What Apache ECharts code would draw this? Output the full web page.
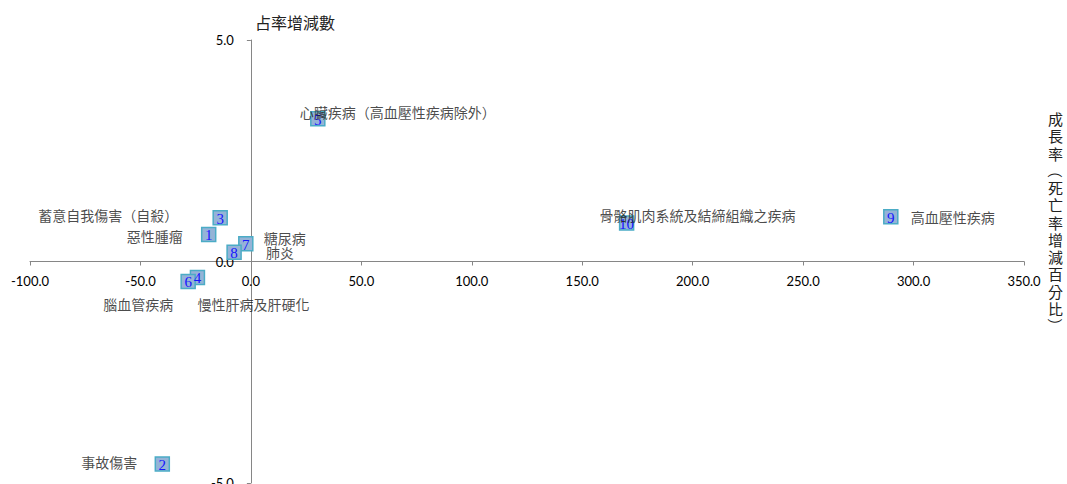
<!DOCTYPE html>
<html>
<head>
<meta charset="utf-8">
<script src="https://cdn.jsdelivr.net/npm/echarts@6/dist/echarts.min.js"></script>
<style>
html,body{margin:0;padding:0;background:#fff;}
#chart{width:1067px;height:484px;}
</style>
</head>
<body>
<div id="chart"></div>
<script>
// ---- data ----
var ids = [1, 2, 3, 4, 5, 6, 7, 8, 9, 10];
var names = ['惡性腫瘤', '事故傷害', '蓄意自我傷害（自殺）', '慢性肝病及肝硬化', '心臟疾病（高血壓性疾病除外）', '腦血管疾病', '糖尿病', '肺炎', '高血壓性疾病', '骨骼肌肉系統及結締組織之疾病'];
var growthRate = [-19.1, -40.1, -13.9, -24.2, 30.3, -28.4, -2.3, -7.6, 289.7, 170.1];
var shareChange = [0.61, -4.57, 0.99, -0.36, 3.22, -0.45, 0.40, 0.21, 1.01, 0.87];
var xTicks = { min: -100, max: 350, interval: 50 };
var yTicks = { min: -5, max: 5, interval: 5 };
var xAxisTitle = '成長率（死亡率增減百分比）';
var yAxisTitle = '占率增減數';

// ---- label placement (styling only) ----
var labelAlign = ['right', 'right', 'right', 'left', 'left', 'right', 'left', 'left', 'left', 'left'];
var labelOffset = [[-26, 2], [-25, -2], [-42, -3], [0, 27], [-18, -7], [-15, 23], [18, -6], [32, 0], [20, 0], [-27, -8]];

// vertical title: characters stacked, brackets drawn rotated
var titleChars = xAxisTitle.split('');
var titleTop = 110, titleLine = 17.25, titleCx = 1055.5, titleFont = 15;
var titleText = titleChars.map(function (c) { return (c === '（' || c === '）') ? '　' : c; }).join('\n');
var bracketGraphics = [];
titleChars.forEach(function (c, i) {
  if (c === '（' || c === '）') {
    bracketGraphics.push({
      type: 'text',
      x: titleCx, y: titleTop + titleLine * (i + 0.5),
      rotation: -Math.PI / 2,
      style: { text: c, fontFamily: 'Noto Sans CJK TC', fontSize: titleFont, fill: '#222', align: 'center', verticalAlign: 'middle' }
    });
  }
});

var pointData = ids.map(function (id, i) {
  return { value: [growthRate[i], shareChange[i]], id: id, name: names[i] };
});
var nameData = ids.map(function (id, i) {
  return {
    value: [growthRate[i], shareChange[i]],
    name: names[i],
    label: { align: labelAlign[i], offset: labelOffset[i] }
  };
});

// grid geometry
var W = 1067, H = 484;
var G = { left: 30, right: 43, top: 40, bottom: 1 };
var gw = W - G.left - G.right, gh = H - G.top - G.bottom;
// place each axis on the other axis' zero (axes cross at 0)
var xAxisOffset = -gh * (0 - yTicks.min) / (yTicks.max - yTicks.min);
var yAxisOffset = -gw * (0 - xTicks.min) / (xTicks.max - xTicks.min);

var chart = echarts.init(document.getElementById('chart'), null, { renderer: 'svg' });
var axisGray = '#868686';
chart.setOption({
  animation: false,
  backgroundColor: '#ffffff',
  title: {
    text: titleText,
    left: titleCx - titleFont / 2,
    top: titleTop,
    padding: 0,
    textStyle: { fontFamily: 'Noto Sans CJK TC', fontSize: titleFont, lineHeight: titleLine, color: '#222', fontWeight: 'normal' }
  },
  graphic: bracketGraphics,
  grid: { left: G.left, right: G.right, top: G.top, bottom: G.bottom, containLabel: false, outerBoundsMode: 'none' },
  xAxis: {
    type: 'value',
    position: 'bottom',
    offset: xAxisOffset,
    min: xTicks.min, max: xTicks.max, interval: xTicks.interval,
    axisLine: { onZero: false, lineStyle: { color: axisGray, width: 1 } },
    axisTick: { show: true, inside: false, length: 4, lineStyle: { color: axisGray } },
    splitLine: { show: false },
    axisLabel: { margin: 13, color: '#000', fontFamily: 'Lato', fontSize: 13, formatter: function (v) { return v.toFixed(1); } }
  },
  yAxis: {
    type: 'value',
    position: 'left',
    offset: yAxisOffset,
    min: yTicks.min, max: yTicks.max, interval: yTicks.interval,
    axisLine: { onZero: false, lineStyle: { color: axisGray, width: 1 } },
    axisTick: { show: true, inside: false, length: 4, lineStyle: { color: axisGray } },
    splitLine: { show: false },
    axisLabel: { margin: 17, color: '#000', fontFamily: 'Lato', fontSize: 13, formatter: function (v) { return v.toFixed(1); } },
    name: yAxisTitle,
    nameLocation: 'end',
    nameGap: 10,
    nameTextStyle: { fontFamily: 'Noto Sans CJK TC', fontSize: 16, color: '#222', align: 'left', padding: [0, 0, 0, 4] }
  },
  series: [
    {
      type: 'scatter',
      data: pointData,
      symbol: 'rect',
      symbolSize: 14,
      itemStyle: { color: '#95B3D7', borderColor: '#4BACC6', borderWidth: 1.5, opacity: 1 },
      label: {
        show: true, position: 'inside', offset: [0, 1],
        formatter: function (p) { return String(p.data.id); },
        fontFamily: 'Liberation Serif', fontSize: 15, color: '#1515ff'
      },
      emphasis: { disabled: true },
      z: 3
    },
    {
      type: 'scatter',
      data: nameData,
      symbol: 'rect',
      symbolSize: 1,
      itemStyle: { color: 'rgba(0,0,0,0)' },
      label: {
        show: true, position: 'inside', verticalAlign: 'middle',
        formatter: function (p) { return p.name; },
        fontFamily: 'Noto Sans CJK TC', fontSize: 14, color: '#1a1a1a'
      },
      emphasis: { disabled: true },
      silent: true,
      z: 4
    }
  ]
});
</script>
</body>
</html>
